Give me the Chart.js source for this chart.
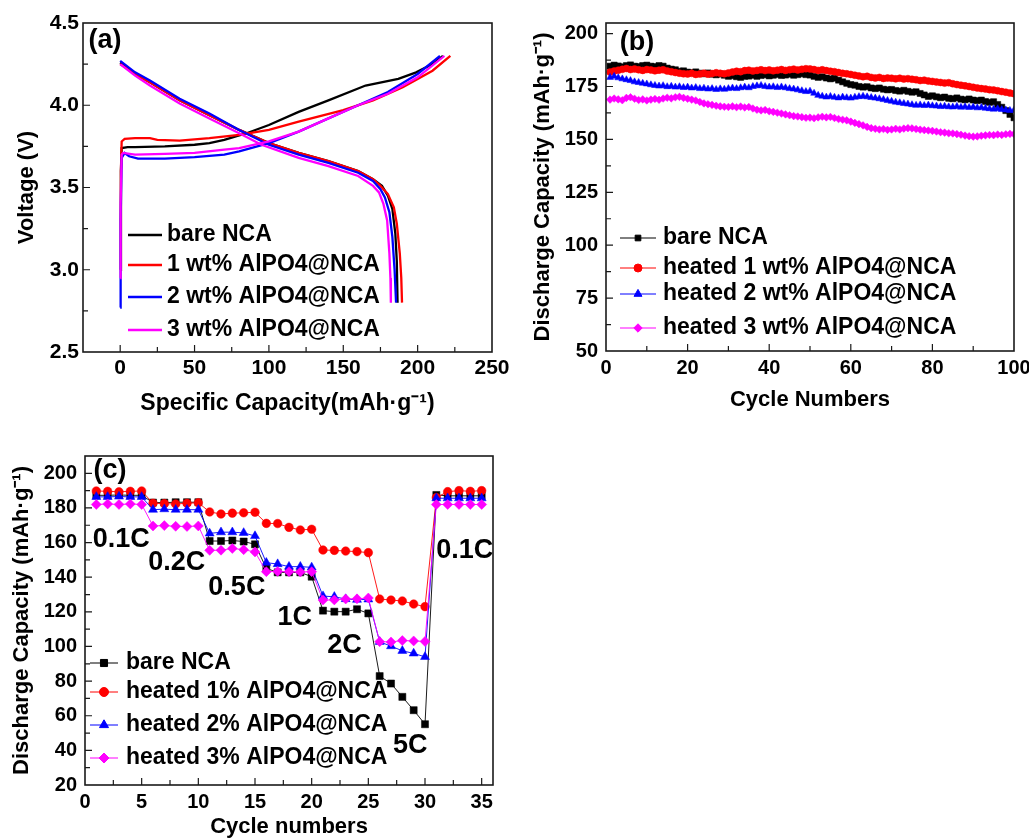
<!DOCTYPE html>
<html><head><meta charset="utf-8">
<script src="https://cdn.jsdelivr.net/npm/chart.js@4.4.1/dist/chart.umd.min.js"></script>
<style>
html,body{margin:0;padding:0;background:#fff;width:1029px;height:840px;overflow:hidden}
.box{position:absolute}
</style></head><body>
<div class="box" style="left:0;top:0;width:515px;height:420px"><canvas id="ca"></canvas></div>
<div class="box" style="left:510px;top:0;width:519px;height:420px"><canvas id="cb"></canvas></div>
<div class="box" style="left:0;top:420px;width:515px;height:420px"><canvas id="cc"></canvas></div>
<script>
// ---------- Panel (a): voltage profiles ----------
const capTicksA = [0, 50, 100, 150, 200, 250];
const voltTicksA = [2.5, 3.0, 3.5, 4.0, 4.5];
const capBareCh = [0, 0.5, 1, 5, 10, 30, 50, 60, 70, 85, 100, 120, 140, 165, 187, 199, 210, 217];
const vBareCh   = [3.0, 3.6, 3.74, 3.745, 3.745, 3.75, 3.76, 3.77, 3.79, 3.83, 3.88, 3.96, 4.03, 4.12, 4.16, 4.20, 4.25, 4.30];
const capRedCh  = [0, 0.5, 1, 3, 10, 20, 25, 40, 60, 80, 100, 120, 150, 170, 190, 210, 222];
const vRedCh    = [3.0, 3.6, 3.78, 3.795, 3.80, 3.80, 3.79, 3.785, 3.80, 3.82, 3.85, 3.90, 3.97, 4.03, 4.11, 4.21, 4.30];
const capBlueCh = [0, 0.3, 1, 3, 6, 12, 30, 50, 70, 80, 100, 120, 140, 160, 180, 200, 215];
const vBlueCh   = [2.77, 3.3, 3.68, 3.71, 3.69, 3.675, 3.675, 3.685, 3.70, 3.72, 3.77, 3.84, 3.92, 4.00, 4.08, 4.19, 4.30];
const capPinkCh = [0, 0.3, 1, 2, 10, 30, 50, 70, 80, 100, 120, 140, 160, 180, 200, 218];
const vPinkCh   = [2.95, 3.4, 3.70, 3.71, 3.70, 3.705, 3.71, 3.73, 3.74, 3.78, 3.84, 3.92, 4.00, 4.07, 4.17, 4.30];
const capBareDis = [0, 10, 20, 40, 60, 80, 100, 120, 140, 160, 170, 176, 180, 183, 185, 186, 186.5];
const vBareDis   = [4.26, 4.19, 4.14, 4.03, 3.94, 3.85, 3.77, 3.71, 3.66, 3.60, 3.55, 3.51, 3.45, 3.37, 3.22, 3.05, 2.8];
const capRedDis  = [0, 10, 20, 40, 60, 80, 100, 120, 140, 160, 170, 175, 180, 184, 186, 188, 189, 189.5];
const vRedDis    = [4.25, 4.19, 4.14, 4.03, 3.94, 3.85, 3.77, 3.71, 3.66, 3.60, 3.55, 3.51, 3.46, 3.38, 3.28, 3.10, 2.95, 2.8];
const capBlueDis = [0, 10, 20, 40, 60, 80, 100, 120, 140, 160, 170, 175, 178, 181, 183, 184.5, 185.5];
const vBlueDis   = [4.27, 4.20, 4.15, 4.04, 3.95, 3.85, 3.76, 3.70, 3.65, 3.59, 3.54, 3.49, 3.44, 3.35, 3.20, 3.0, 2.8];
const capPinkDis = [0, 10, 20, 40, 60, 80, 95, 120, 140, 160, 170, 174, 177, 179.5, 181, 181.7, 182];
const vPinkDis   = [4.25, 4.18, 4.12, 4.01, 3.92, 3.83, 3.76, 3.68, 3.63, 3.57, 3.51, 3.47, 3.40, 3.30, 3.10, 2.95, 2.8];
const labelsA = ['bare NCA', '1 wt% AlPO4@NCA', '2 wt% AlPO4@NCA', '3 wt% AlPO4@NCA'];

// ---------- Panel (b): cycling ----------
const cyclesB = Array.from({length: 100}, (_, i) => i + 1);
const cycTicksB = [0, 20, 40, 60, 80, 100];
const capTicksB = [50, 75, 100, 125, 150, 175, 200];
const bareB = [184.6,185.1,184.7,184.3,184.9,185.2,184.6,184.4,184.9,185.1,
  184.6,184.4,184.9,184.6,183.7,183.2,182.9,182.2,182.4,181.8,
  181.5,181.9,181.3,181.0,181.4,180.8,180.5,180.9,180.3,179.8,
  180.1,179.6,179.3,179.8,179.9,180.3,179.8,180.2,180.5,180.0,
  180.3,180.7,180.2,180.4,180.8,180.3,180.6,181.0,180.6,180.4,
  179.8,179.3,179.6,179.0,178.6,178.9,178.0,177.2,176.5,175.9,
  175.6,175.0,174.7,174.9,174.3,174.0,174.3,173.7,173.4,173.6,
  173.1,172.8,173.2,172.7,172.3,172.5,171.7,171.0,170.3,170.6,
  170.1,169.7,170.0,169.4,169.2,169.6,169.0,168.7,169.1,168.6,
  168.3,168.6,167.9,167.5,167.8,166.5,165.2,163.6,161.8,160.2];
const h1B = [181.8,182.3,182.7,183.1,183.5,183.0,183.3,182.9,182.6,183.0,
  182.8,182.4,182.7,182.9,182.3,182.0,181.6,181.3,181.0,180.9,
  181.2,180.7,180.9,181.3,180.8,181.1,181.5,181.2,181.0,181.4,
  181.8,182.2,182.0,182.5,182.7,182.3,182.6,182.9,182.5,182.8,
  182.4,182.7,183.0,182.6,182.9,183.2,182.8,183.1,183.4,183.3,
  183.0,182.6,182.9,182.5,182.2,182.0,181.6,181.2,181.0,180.7,
  180.3,180.0,179.6,179.8,179.3,179.0,179.3,178.8,179.0,178.9,
  178.6,178.9,178.5,178.7,178.4,178.2,177.8,178.0,177.6,177.4,
  177.1,176.9,176.6,176.8,176.3,175.9,175.6,175.3,175.0,174.6,
  174.3,174.0,173.8,173.5,173.3,173.0,172.6,172.3,171.9,171.6];
const h2B = [179.3,179.8,179.1,178.6,178.2,177.8,177.2,176.9,176.5,176.2,
  175.8,175.5,175.2,175.4,174.9,175.1,174.7,174.9,174.5,174.7,
  174.3,174.5,174.0,174.2,173.8,174.0,173.6,173.9,173.7,174.0,
  174.3,174.0,174.4,174.7,174.4,175.0,175.3,175.5,175.0,174.7,
  174.9,174.5,174.8,174.4,174.0,173.8,173.4,173.0,172.6,172.8,
  171.8,170.8,170.4,170.0,170.3,169.9,169.6,170.0,169.7,169.5,
  169.9,170.2,170.4,170.1,169.8,169.5,169.2,168.8,168.4,168.0,
  167.6,167.3,167.0,166.7,166.4,166.1,166.3,166.0,166.2,165.9,
  165.8,165.5,165.7,165.4,165.3,165.6,165.2,165.4,165.1,165.3,
  164.9,165.1,164.7,164.5,164.3,164.5,164.1,163.9,163.7,163.8];
const h3B = [168.8,169.3,168.9,168.5,169.6,169.9,169.2,168.6,168.9,168.4,
  168.8,169.1,168.7,169.3,169.7,169.4,169.9,170.1,169.6,169.2,
  168.8,168.4,167.7,167.0,166.6,166.3,165.9,165.6,165.4,165.3,
  165.6,165.2,165.5,165.1,165.3,164.6,164.0,163.7,163.9,163.3,
  163.0,162.6,162.2,161.8,161.4,161.0,160.8,160.5,160.2,160.3,
  160.0,160.4,160.7,160.4,160.6,160.1,159.6,159.3,159.0,158.4,
  157.8,157.2,156.6,155.9,155.3,155.0,154.7,154.9,154.5,154.7,
  155.0,154.7,155.1,155.3,155.2,154.9,154.6,154.4,154.2,154.0,
  153.7,153.4,153.2,152.9,152.8,152.5,152.2,151.8,151.5,151.3,
  151.4,151.7,151.9,152.1,152.0,152.3,152.1,152.4,152.6,152.5];
const labelsB = ['bare NCA', 'heated 1 wt% AlPO4@NCA', 'heated 2 wt% AlPO4@NCA', 'heated 3 wt% AlPO4@NCA'];

// ---------- Panel (c): rate capability ----------
const cyclesC = [1,2,3,4,5,6,7,8,9,10,11,12,13,14,15,16,17,18,19,20,21,22,23,24,25,26,27,28,29,30,31,32,33,34,35];
const cycTicksC = [0, 5, 10, 15, 20, 25, 30, 35];
const capTicksC = [20, 40, 60, 80, 100, 120, 140, 160, 180, 200];
const bareC = [187.3,187.3,187.5,187.3,187.3, 183.1,183.1,183.3,183.3,183.3, 160.9,160.9,161.2,160.6,159.0,
  145.1,142.8,142.8,142.8,140.3, 120.7,120.1,120.1,121.5,119.1, 82.9,78.6,70.9,63.2,55.1, 187.5,187.0,187.0,187.0,187.0];
const h1C = [189.8,189.6,189.3,189.6,189.8, 182.7,182.5,182.3,182.7,183.0, 177.7,176.5,177.0,177.2,177.5,
  171.1,171.0,168.8,167.3,167.7, 155.7,155.5,155.1,154.8,154.2, 127.4,126.8,126.3,124.5,123.0, 186.0,189.4,190.0,189.6,190.0];
const h2C = [186.4,186.4,186.6,186.4,186.4, 179.0,179.3,179.0,179.0,179.0, 165.3,166.0,166.0,165.6,163.8,
  148.4,147.6,146.1,146.1,145.7, 129.1,128.7,127.4,127.0,127.2, 102.7,100.2,97.5,96.0,94.0, 185.6,185.6,185.6,185.6,185.6];
const h3C = [182.0,182.3,182.0,182.3,182.0, 169.6,169.8,169.4,169.3,169.6, 155.5,155.6,156.6,155.9,154.6,
  143.2,143.3,143.2,143.0,143.2, 126.8,126.9,127.4,127.5,128.0, 102.8,102.6,103.4,103.2,102.9, 182.0,182.0,182.0,182.0,182.0];
const labelsC = ['bare NCA', 'heated 1% AlPO4@NCA', 'heated 2% AlPO4@NCA', 'heated 3% AlPO4@NCA'];
const rateLabels = ['0.1C', '0.2C', '0.5C', '1C', '2C', '5C', '0.1C'];
const rateLabelX = [3.2, 8.1, 13.4, 18.5, 22.9, 28.7, 33.5];
const rateLabelY = [161.5, 148.5, 134.0, 116.5, 100.5, 42.5, 155.5];

const COLORS = ['#000000', '#ff0000', '#0000ff', '#ff00ff'];
const STYLES = ['rect', 'circle', 'triangle', 'rectRot'];
const FONT = '"Liberation Sans", Arial, Helvetica, sans-serif';

Chart.defaults.font.family = FONT;
Chart.defaults.font.weight = 'bold';
Chart.defaults.color = '#000';

function pts(xs, ys) { return xs.map((x, i) => ({x: x, y: ys[i]})); }
function fitAxis(size, horiz) {
  return function (s) {
    if (horiz) s.height = size; else s.width = size;
    s.paddingLeft = 0; s.paddingRight = 0; s.paddingTop = 0; s.paddingBottom = 0;
  };
}
function setTicks(vals) { return function (s) { s.ticks = vals.map(v => ({value: v})); }; }
function mids(vals) { const m = []; for (let i = 0; i < vals.length - 1; i++) m.push((vals[i] + vals[i + 1]) / 2); return m; }

function drawMarker(ctx, style, x, y, r, color) {
  ctx.save();
  ctx.fillStyle = color; ctx.strokeStyle = color; ctx.lineWidth = 1;
  ctx.beginPath();
  if (style === 'rect') { const s = r * Math.SQRT1_2; ctx.rect(x - s, y - s, 2 * s, 2 * s); }
  else if (style === 'circle') { ctx.arc(x, y, r, 0, Math.PI * 2); }
  else if (style === 'triangle') {
    let a = 0; ctx.moveTo(x + Math.sin(a) * r, y - Math.cos(a) * r);
    a += 2 * Math.PI / 3; ctx.lineTo(x + Math.sin(a) * r, y - Math.cos(a) * r);
    a += 2 * Math.PI / 3; ctx.lineTo(x + Math.sin(a) * r, y - Math.cos(a) * r);
    ctx.closePath();
  } else if (style === 'rectRot') {
    ctx.moveTo(x - r, y); ctx.lineTo(x, y - r); ctx.lineTo(x + r, y); ctx.lineTo(x, y + r); ctx.closePath();
  }
  ctx.fill(); ctx.stroke();
  ctx.restore();
}

const framePlugin = {
  id: 'frame',
  afterDatasetsDraw(chart, args, o) {
    const ctx = chart.ctx, a = chart.chartArea, xs = chart.scales.x, ys = chart.scales.y;
    ctx.save();
    ctx.strokeStyle = '#1a1a1a';
    ctx.lineWidth = 1.2;
    ctx.beginPath();
    const tick = (v, len, horiz) => {
      if (horiz) { const p = xs.getPixelForValue(v); if (p <= a.left + 1 || p >= a.right - 1) return; ctx.moveTo(p, a.bottom); ctx.lineTo(p, a.bottom - len); }
      else { const p = ys.getPixelForValue(v); if (p <= a.top + 1 || p >= a.bottom - 1) return; ctx.moveTo(a.left, p); ctx.lineTo(a.left + len, p); }
    };
    xs.ticks.forEach(t => tick(t.value, 7, true));
    (o.xMinor || []).forEach(v => tick(v, 5, true));
    ys.ticks.forEach(t => tick(t.value, 7, false));
    (o.yMinor || []).forEach(v => tick(v, 5, false));
    ctx.stroke();
    ctx.lineWidth = 1.6;
    ctx.strokeRect(a.left, a.top, a.right - a.left, a.bottom - a.top);
    ctx.restore();
  }
};

const legendPlugin = {
  id: 'inlineLegend',
  afterDraw(chart, args, o) {
    if (!o.rows) return;
    const ctx = chart.ctx;
    const items = chart.data.datasets.filter(d => d.inLegend);
    ctx.save();
    items.forEach((d, i) => {
      const y = o.rows[i];
      ctx.strokeStyle = d.borderColor; ctx.lineWidth = o.lineWidth;
      ctx.beginPath(); ctx.moveTo(o.x0, y); ctx.lineTo(o.x1, y); ctx.stroke();
      if (o.markers) drawMarker(ctx, d.pointStyle, (o.x0 + o.x1) / 2, y, o.markerR[i], d.borderColor);
      ctx.fillStyle = '#000';
      ctx.font = 'bold ' + o.size + 'px ' + FONT;
      ctx.textAlign = 'left'; ctx.textBaseline = 'middle';
      ctx.fillText(d.label, o.tx, y);
    });
    ctx.restore();
  }
};

const notesPlugin = {
  id: 'notes',
  afterDraw(chart, args, o) {
    const ctx = chart.ctx, a = chart.chartArea;
    ctx.save();
    ctx.fillStyle = '#000'; ctx.textAlign = 'center'; ctx.textBaseline = 'middle';
    (o.items || []).forEach(it => {
      ctx.font = 'bold ' + it.size + 'px ' + FONT;
      let px, py;
      if (it.data) { px = chart.scales.x.getPixelForValue(it.x); py = chart.scales.y.getPixelForValue(it.y); }
      else { px = a.left + it.x; py = a.top + it.y; }
      ctx.fillText(it.text, px, py);
    });
    ctx.restore();
  }
};

function baseOptions(cfg) {
  return {
    responsive: true, maintainAspectRatio: false, animation: false, devicePixelRatio: 1,
    layout: {padding: cfg.padding},
    plugins: {
      legend: {display: false}, tooltip: {enabled: false},
      frame: {xMinor: cfg.xMinor, yMinor: cfg.yMinor},
      inlineLegend: cfg.legend,
      notes: {items: cfg.notes}
    },
    scales: {
      x: {
        type: 'linear', min: cfg.xMin, max: cfg.xMax,
        grid: {display: false, drawTicks: false}, border: {display: false},
        ticks: {font: {size: cfg.tickSize, weight: 'bold'}, padding: cfg.xTickPad, color: '#000'},
        afterBuildTicks: setTicks(cfg.xTicks), afterFit: fitAxis(cfg.xH, true),
        title: {display: true, text: cfg.xTitle, font: {size: cfg.xTitleSize, weight: 'bold'}, padding: {top: 0, bottom: 0}, color: '#000'}
      },
      y: {
        type: 'linear', min: cfg.yMin, max: cfg.yMax,
        grid: {display: false, drawTicks: false}, border: {display: false},
        ticks: {font: {size: cfg.tickSize, weight: 'bold'}, padding: cfg.yTickPad, color: '#000', callback: cfg.yFmt},
        afterBuildTicks: setTicks(cfg.yTicks), afterFit: fitAxis(cfg.yW, false),
        title: {display: true, text: cfg.yTitle, font: {size: 22, weight: 'bold'}, padding: {top: cfg.yTitlePad, bottom: 0}, color: '#000'}
      }
    }
  };
}

// ----- Chart (a)
const chA = [[capBareCh, vBareCh, capBareDis, vBareDis], [capRedCh, vRedCh, capRedDis, vRedDis],
             [capBlueCh, vBlueCh, capBlueDis, vBlueDis], [capPinkCh, vPinkCh, capPinkDis, vPinkDis]];
const dsA = [];
chA.forEach((c, i) => {
  dsA.push({label: labelsA[i], inLegend: true, data: pts(c[0], c[1]), showLine: true, borderColor: COLORS[i], borderWidth: 2.3, pointRadius: 0, order: 3 - i});
  dsA.push({label: labelsA[i] + ' discharge', data: pts(c[2], c[3]), showLine: true, borderColor: COLORS[i], borderWidth: 2.3, pointRadius: 0, order: 3 - i});
});
new Chart(document.getElementById('ca'), {
  type: 'scatter',
  data: {datasets: dsA},
  options: baseOptions({
    padding: {left: 0, top: 23, right: 23, bottom: 3},
    xMin: -25, xMax: 250, yMin: 2.5, yMax: 4.5,
    xTicks: capTicksA, yTicks: voltTicksA,
    xMinor: [25, 75, 125, 175, 225], yMinor: mids(voltTicksA),
    tickSize: 21, xTickPad: 4, yTickPad: 4, xH: 65, yW: 83,
    xTitle: 'Specific Capacity(mAh·g⁻¹)', xTitleSize: 23,
    yTitle: 'Voltage (V)', yTitlePad: 14,
    yFmt: v => Number(v).toFixed(1),
    legend: {rows: [235, 265, 297, 330], x0: 128, x1: 162, tx: 167, lineWidth: 2.5, size: 23, markers: false},
    notes: [{text: '(a)', x: 22, y: 18, size: 27}]
  }),
  plugins: [framePlugin, legendPlugin, notesPlugin]
});

// ----- Chart (b)
const seriesB = [bareB, h1B, h2B, h3B];
const radB = [4.3, 3.5, 4.0, 3.8];
const dsB = seriesB.map((s, i) => ({
  label: labelsB[i], inLegend: true, data: pts(cyclesB, s), showLine: true,
  borderColor: COLORS[i], backgroundColor: COLORS[i], borderWidth: 1,
  pointStyle: STYLES[i], pointRadius: radB[i], pointBackgroundColor: COLORS[i], pointBorderColor: COLORS[i], pointBorderWidth: 0.5,
  order: 3 - i
}));
new Chart(document.getElementById('cb'), {
  type: 'scatter',
  data: {datasets: dsB},
  options: baseOptions({
    padding: {left: 0, top: 23, right: 15, bottom: 7},
    xMin: 0, xMax: 100, yMin: 50, yMax: 205,
    xTicks: cycTicksB, yTicks: capTicksB,
    xMinor: mids(cycTicksB), yMinor: mids(capTicksB),
    tickSize: 20, xTickPad: 5, yTickPad: 8, xH: 62, yW: 96,
    xTitle: 'Cycle Numbers', xTitleSize: 22,
    yTitle: 'Discharge Capacity (mAh·g⁻¹)', yTitlePad: 20,
    yFmt: v => String(v),
    legend: {rows: [238, 268, 294, 328], x0: 110, x1: 146, tx: 153, lineWidth: 1, size: 23, markers: true, markerR: [4, 4, 4.6, 4.2]},
    notes: [{text: '(b)', x: 31, y: 20, size: 27}]
  }),
  plugins: [framePlugin, legendPlugin, notesPlugin]
});

// ----- Chart (c)
const seriesC = [bareC, h1C, h2C, h3C];
const radC = [5, 4.3, 5.2, 5];
const dsC = seriesC.map((s, i) => ({
  label: labelsC[i], inLegend: true, data: pts(cyclesC, s), showLine: true,
  borderColor: COLORS[i], backgroundColor: COLORS[i], borderWidth: 0.9,
  pointStyle: STYLES[i], pointRadius: radC[i], pointBackgroundColor: COLORS[i], pointBorderColor: COLORS[i], pointBorderWidth: 0.5,
  order: 3 - i
}));
const notesC = [{text: '(c)', x: 25, y: 15, size: 27}];
rateLabels.forEach((t, i) => notesC.push({text: t, x: rateLabelX[i], y: rateLabelY[i], size: 27, data: true}));
new Chart(document.getElementById('cc'), {
  type: 'scatter',
  data: {datasets: dsC},
  options: baseOptions({
    padding: {left: 0, top: 36, right: 22, bottom: 0},
    xMin: 0, xMax: 36, yMin: 20, yMax: 210,
    xTicks: cycTicksC, yTicks: capTicksC,
    xMinor: mids(cycTicksC), yMinor: mids(capTicksC),
    tickSize: 20, xTickPad: 5, yTickPad: 8, xH: 55, yW: 85,
    xTitle: 'Cycle numbers', xTitleSize: 22,
    yTitle: 'Discharge Capacity (mAh·g⁻¹)', yTitlePad: 9,
    yFmt: v => String(v),
    legend: {rows: [243, 272, 305, 338], x0: 90, x1: 118, tx: 126, lineWidth: 1, size: 23, markers: true, markerR: [5, 4.5, 5.2, 5]},
    notes: notesC
  }),
  plugins: [framePlugin, legendPlugin, notesPlugin]
});
</script>
</body></html>
